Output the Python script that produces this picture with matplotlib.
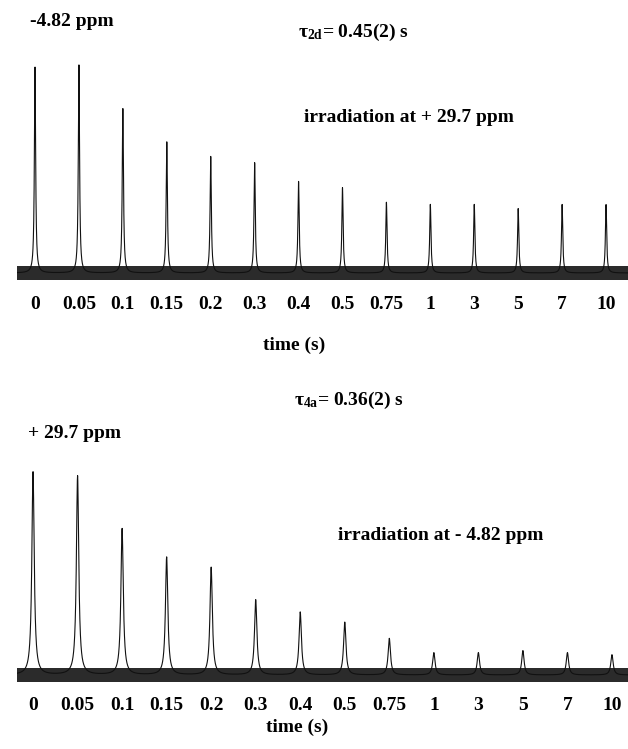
import numpy as np
import matplotlib.pyplot as plt

plt.rcParams['font.family'] = ['Liberation Serif', 'DejaVu Serif']
plt.rcParams['font.weight'] = 'bold'
plt.rcParams['mathtext.fontset'] = 'custom'
plt.rcParams['mathtext.rm'] = 'Liberation Serif:bold'
plt.rcParams['mathtext.bf'] = 'Liberation Serif:bold'
plt.rcParams['mathtext.it'] = 'Liberation Serif:bold'
plt.rcParams['mathtext.default'] = 'bf'

# delay times (s), one spectrum per delay
delays = ['0', '0.05', '0.1', '0.15', '0.2', '0.3', '0.4', '0.5', '0.75',
          '1', '3', '5', '7', '10']
# relative peak intensities
top_int = [99, 100, 79, 63, 56, 53, 44, 41, 34, 33, 33, 31, 33, 33]
bot_int = [100, 98, 72, 58, 53, 37, 31, 26, 18, 11, 11, 12, 11, 10]

W, H = 628, 749
fig = plt.figure(figsize=(W / 100, H / 100), dpi=100)


def px_axes(x0, x1, ytop, ybot):
    return fig.add_axes([x0 / W, 1 - ybot / H, (x1 - x0) / W, (ybot - ytop) / H])


def ftext(x, y, s, **kw):
    kw.setdefault('fontsize', 14)
    kw.setdefault('ha', 'left')
    kw.setdefault('va', 'center')
    fig.text(x / W, 1 - y / H, s, fontweight='bold', **kw)


def spectrum(ax, heights, hw, xlim, ylim, pad):
    ax.set_xlim(*xlim)
    ax.set_ylim(*ylim)
    x = np.linspace(xlim[0], xlim[1], 8000)
    y = np.zeros_like(x)
    for i, h in enumerate(heights):
        y += h / (1 + ((x - i) / hw) ** 2)
    # noise band of the scanned baseline
    ax.axhspan(-3.4, 3.4, color='#2b2b2b', lw=0)
    ax.plot(x, y, color='#111111', lw=0.8)
    ax.set_xticks(range(len(delays)), delays)
    ax.tick_params(axis='x', length=0, pad=pad, labelsize=14)
    ax.set_yticks([])
    for s in ax.spines.values():
        s.set_visible(False)
    ax.patch.set_alpha(0)


# top: -4.82 ppm signal
ax1 = px_axes(17, 628, 55, 290)
spectrum(ax1, top_int, 0.017, (-0.41, 13.50), (-8.17, 104.8), 4.5)

# bottom: +29.7 ppm signal
ax2 = px_axes(17, 628, 462, 692)
spectrum(ax2, bot_int, 0.032, (-0.36, 13.36), (-8.37, 104.9), 3.8)

ftext(30, 22, '-4.82 ppm')
ftext(298, 32, 'τ$_{2d}$= 0.45(2) s')
ftext(304, 117, 'irradiation at + 29.7 ppm')
ftext(294, 345, 'time (s)', ha='center')

ftext(294, 400, 'τ$_{4a}$= 0.36(2) s')
ftext(28, 433, '+ 29.7 ppm')
ftext(338, 536, 'irradiation at - 4.82 ppm')
ftext(297, 727, 'time (s)', ha='center')

fig.savefig('out.png', dpi=100)
